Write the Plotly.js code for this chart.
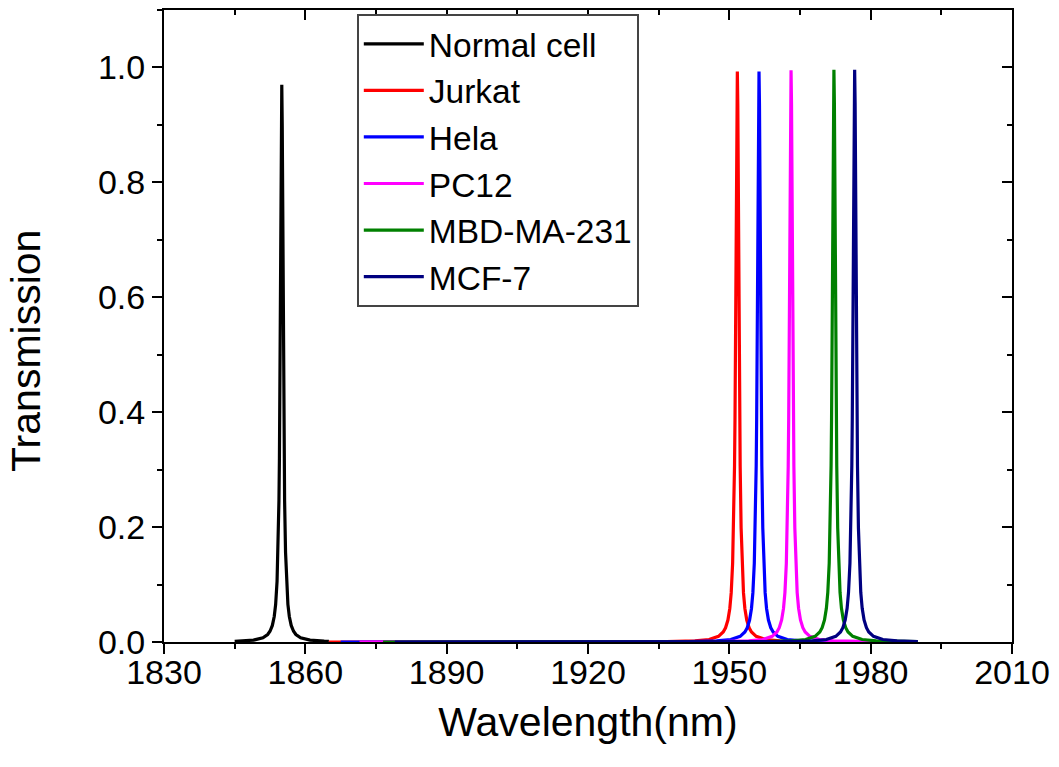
<!DOCTYPE html>
<html>
<head>
<meta charset="utf-8">
<script src="https://cdn.plot.ly/plotly-3.0.1.min.js"></script>
<style>html,body{margin:0;padding:0;background:#fff;}#chart{width:1059px;height:767px;}</style>
</head>
<body>
<div id="chart"></div>
<script>
// Series names and colours
const seriesNames = ["Normal cell", "Jurkat", "Hela", "PC12", "MBD-MA-231", "MCF-7"];
const seriesColors = ["#000000", "#ff0000", "#0000ff", "#ff00ff", "#008000", "#000080"];

// Normal cell
const normalX = [1845, 1846, 1849, 1851, 1852, 1852.5, 1853, 1853.4, 1853.7, 1854, 1854.2, 1854.4, 1854.5, 1854.6, 1854.7, 1854.8, 1854.9,
  1855,
  1855.1, 1855.2, 1855.3, 1855.4, 1855.5, 1855.6, 1855.8, 1856, 1856.3, 1856.6, 1857, 1857.5, 1858, 1859, 1861, 1864, 1865];
const normalY = [0.0012, 0.0015, 0.0033, 0.0074, 0.013, 0.0186, 0.0288, 0.0443, 0.0656, 0.106, 0.156, 0.246, 0.319, 0.421, 0.559, 0.731, 0.897,
  0.970,
  0.897, 0.731, 0.559, 0.421, 0.319, 0.246, 0.156, 0.106, 0.0656, 0.0443, 0.0288, 0.0186, 0.013, 0.0074, 0.0033, 0.0015, 0.0012];

// Jurkat
const jurkatX = [1865, 1900, 1930, 1936.7, 1942.7, 1945.7, 1947.7, 1948.7, 1949.2, 1949.7, 1950.1, 1950.4, 1950.7, 1950.9, 1951.1, 1951.2, 1951.3, 1951.4, 1951.5, 1951.6,
  1951.7,
  1951.8, 1951.9, 1952.0, 1952.1, 1952.2, 1952.3, 1952.5, 1952.7, 1953.0, 1953.3, 1953.7, 1954.2, 1954.7, 1955.7, 1957.7, 1960.7, 1966.7, 1975, 1990];
const jurkatY = [0, 0.0001, 0.0003, 0.0007, 0.002, 0.0044, 0.0098, 0.0174, 0.0248, 0.0382, 0.0584, 0.0859, 0.137, 0.199, 0.306, 0.387, 0.497, 0.636, 0.794, 0.934,
  0.993,
  0.934, 0.794, 0.636, 0.497, 0.387, 0.306, 0.199, 0.137, 0.0859, 0.0584, 0.0382, 0.0248, 0.0174, 0.0098, 0.0044, 0.002, 0.0007, 0.0003, 0.0001];

// Hela
const helaX = [1867.5, 1900, 1930, 1941.3, 1947.3, 1950.3, 1952.3, 1953.3, 1953.8, 1954.3, 1954.7, 1955.0, 1955.3, 1955.5, 1955.7, 1955.8, 1955.9, 1956.0, 1956.1, 1956.2,
  1956.3,
  1956.4, 1956.5, 1956.6, 1956.7, 1956.8, 1956.9, 1957.1, 1957.3, 1957.6, 1957.9, 1958.3, 1958.8, 1959.3, 1960.3, 1962.3, 1965.3, 1971.3, 1980, 1990];
const helaY = [0, 0.0001, 0.0002, 0.0007, 0.002, 0.0044, 0.0098, 0.0174, 0.0248, 0.0382, 0.0584, 0.0859, 0.137, 0.199, 0.306, 0.387, 0.497, 0.636, 0.794, 0.934,
  0.993,
  0.934, 0.794, 0.636, 0.497, 0.387, 0.306, 0.199, 0.137, 0.0859, 0.0584, 0.0382, 0.0248, 0.0174, 0.0098, 0.0044, 0.002, 0.0007, 0.0003, 0.0001];

// PC12
const pc12X = [1871.5, 1900, 1935, 1948.1, 1954.1, 1957.1, 1959.1, 1960.1, 1960.6, 1961.1, 1961.5, 1961.8, 1962.1, 1962.3, 1962.5, 1962.6, 1962.7, 1962.8, 1962.9, 1963.0,
  1963.1,
  1963.2, 1963.3, 1963.4, 1963.5, 1963.6, 1963.7, 1963.9, 1964.1, 1964.4, 1964.7, 1965.1, 1965.6, 1966.1, 1967.1, 1969.1, 1972.1, 1978.1, 1984, 1990];
const pc12Y = [0, 0.0001, 0.0002, 0.0007, 0.002, 0.0044, 0.0099, 0.0174, 0.0249, 0.0383, 0.0585, 0.0861, 0.137, 0.199, 0.306, 0.388, 0.498, 0.637, 0.796, 0.936,
  0.995,
  0.936, 0.796, 0.637, 0.498, 0.388, 0.306, 0.199, 0.137, 0.0861, 0.0585, 0.0383, 0.0249, 0.0174, 0.0099, 0.0044, 0.002, 0.0007, 0.0004, 0.0002];

// MBD-MA-231
const mbdX = [1876.5, 1910, 1945, 1957.2, 1963.2, 1966.2, 1968.2, 1969.2, 1969.7, 1970.2, 1970.6, 1970.9, 1971.2, 1971.4, 1971.6, 1971.7, 1971.8, 1971.9, 1972.0, 1972.1,
  1972.2,
  1972.3, 1972.4, 1972.5, 1972.6, 1972.7, 1972.8, 1973.0, 1973.2, 1973.5, 1973.8, 1974.2, 1974.7, 1975.2, 1976.2, 1978.2, 1981.2, 1985, 1990];
const mbdY = [0, 0, 0.0002, 0.0007, 0.002, 0.0044, 0.0099, 0.0174, 0.0249, 0.0383, 0.0586, 0.0862, 0.137, 0.199, 0.307, 0.388, 0.498, 0.637, 0.797, 0.937,
  0.996,
  0.937, 0.797, 0.637, 0.498, 0.388, 0.307, 0.199, 0.137, 0.0862, 0.0586, 0.0383, 0.0249, 0.0174, 0.0099, 0.0044, 0.002, 0.001, 0.0005];

// MCF-7
const mcfX = [1879, 1910, 1950, 1961.6, 1967.6, 1970.6, 1972.6, 1973.6, 1974.1, 1974.6, 1975.0, 1975.3, 1975.6, 1975.8, 1976.0, 1976.1, 1976.2, 1976.3, 1976.4, 1976.5,
  1976.6,
  1976.7, 1976.8, 1976.9, 1977.0, 1977.1, 1977.2, 1977.4, 1977.6, 1977.9, 1978.2, 1978.6, 1979.1, 1979.6, 1980.6, 1982.6, 1985.6, 1990];
const mcfY = [0, 0, 0.0002, 0.0007, 0.002, 0.0044, 0.0099, 0.0174, 0.0249, 0.0383, 0.0586, 0.0862, 0.137, 0.199, 0.307, 0.388, 0.498, 0.637, 0.797, 0.937,
  0.996,
  0.937, 0.797, 0.637, 0.498, 0.388, 0.307, 0.199, 0.137, 0.0862, 0.0586, 0.0383, 0.0249, 0.0174, 0.0099, 0.0044, 0.002, 0.0009];

const xTickVals = [1830, 1860, 1890, 1920, 1950, 1980, 2010];
const yTickVals = [0.0, 0.2, 0.4, 0.6, 0.8, 1.0];
const xTitle = 'Wavelength(nm)';
const yTitle = 'Transmission';

const allX = [normalX, jurkatX, helaX, pc12X, mbdX, mcfX];
const allY = [normalY, jurkatY, helaY, pc12Y, mbdY, mcfY];

const FONT = 'Arial, "Liberation Sans", sans-serif';

const traces = seriesNames.map((name, i) => ({
  type: 'scatter',
  mode: 'lines',
  name: name,
  x: allX[i],
  y: allY[i],
  line: {color: seriesColors[i], width: 3.2},
  legendgroup: 'g' + i,
  hoverinfo: 'x+y+name'
}));

// invisible companions so that the mirrored top/right axes are drawn
traces.push({type: 'scatter', mode: 'lines', x: normalX, y: normalY, xaxis: 'x2', yaxis: 'y',
  opacity: 0, showlegend: false, hoverinfo: 'skip', line: {width: 1}});
traces.push({type: 'scatter', mode: 'lines', x: normalX, y: normalY, xaxis: 'x', yaxis: 'y2',
  opacity: 0, showlegend: false, hoverinfo: 'skip', line: {width: 1}});

const xRange = [1830, 2010];
const yRange = [0, 1.1];

const layout = {
  width: 1059,
  height: 767,
  paper_bgcolor: '#ffffff',
  plot_bgcolor: '#ffffff',
  margin: {l: 164, r: 47, t: 10, b: 125},
  font: {family: FONT, color: '#000000'},
  showlegend: true,
  legend: {
    x: 0.2276, y: 0.994, xanchor: 'left', yanchor: 'top',
    bgcolor: '#ffffff', bordercolor: '#444444', borderwidth: 1.8,
    font: {family: FONT, size: 33.5, color: '#000000'},
    tracegroupgap: 0,
    itemwidth: 60
  },
  annotations: [{
    text: yTitle, xref: 'paper', yref: 'paper', x: -0.162, y: 0.46,
    xanchor: 'center', yanchor: 'middle', textangle: -90, showarrow: false,
    font: {family: FONT, size: 41, color: '#000'}
  }],
  xaxis: {
    range: xRange,
    tickmode: 'array', tickvals: xTickVals,
    ticks: 'outside', ticklen: 10, tickwidth: 2, tickcolor: '#000',
    minor: {ticks: 'outside', ticklen: 5, tickwidth: 2, tickcolor: '#000', dtick: 15, tick0: 1830, showgrid: false},
    showline: true, linecolor: '#000', linewidth: 2,
    showgrid: false, zeroline: false,
    ticklabelstandoff: -11,
    tickfont: {family: FONT, size: 34, color: '#000'},
    title: {text: xTitle, font: {family: FONT, size: 41, color: '#000'}, standoff: 18}
  },
  yaxis: {
    range: yRange,
    tickmode: 'array', tickvals: yTickVals, tickformat: '.1f',
    ticks: 'outside', ticklen: 10, tickwidth: 2, tickcolor: '#000',
    minor: {ticks: 'outside', ticklen: 5, tickwidth: 2, tickcolor: '#000', dtick: 0.1, tick0: 0, showgrid: false},
    showline: true, linecolor: '#000', linewidth: 2,
    showgrid: false, zeroline: false,
    tickfont: {family: FONT, size: 34, color: '#000'}
  },
  xaxis2: {
    overlaying: 'x', anchor: 'y', side: 'top', range: xRange,
    tickmode: 'array', tickvals: xTickVals, showticklabels: false,
    ticks: 'inside', ticklen: 10, tickwidth: 2, tickcolor: '#000',
    minor: {ticks: 'inside', ticklen: 5, tickwidth: 2, tickcolor: '#000', dtick: 15, tick0: 1830, showgrid: false},
    showline: true, linecolor: '#000', linewidth: 2,
    showgrid: false, zeroline: false, fixedrange: true
  },
  yaxis2: {
    overlaying: 'y', anchor: 'x', side: 'right', range: yRange,
    tickmode: 'array', tickvals: yTickVals, showticklabels: false,
    ticks: 'inside', ticklen: 10, tickwidth: 2, tickcolor: '#000',
    minor: {ticks: 'inside', ticklen: 5, tickwidth: 2, tickcolor: '#000', dtick: 0.1, tick0: 0, showgrid: false},
    showline: true, linecolor: '#000', linewidth: 2,
    showgrid: false, zeroline: false, fixedrange: true
  }
};

Plotly.newPlot('chart', traces, layout, {displayModeBar: false, staticPlot: true});
</script>
</body>
</html>
